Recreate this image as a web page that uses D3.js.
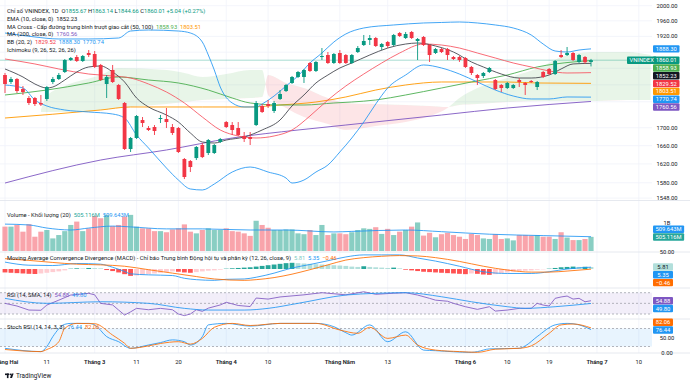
<!DOCTYPE html>
<html>
<head>
<meta charset="utf-8">
<script src="https://cdn.jsdelivr.net/npm/d3@7"></script>
<style>
html, body { margin: 0; padding: 0; background: #fff; }
svg { display: block; font-family: Roboto, "Noto Sans", sans-serif; }
text { white-space: pre; }
</style>
</head>
<body>
<svg id="chart" width="690" height="385"></svg>
<script>
// ---- data (daily bars) ----
const opens = [
  1823.7,1806.8,1814.0,1790.0,1768.7,1768.7,1757.0,1766.4,1806.8,1814.0,
  1831.0,1860.5,1867.9,1858.0,1877.9,1875.4,1848.2,1802.0,1835.9,1799.6,
  1757.0,1652.6,1677.0,1717.6,1699.4,1701.7,1719.9,1719.9,1701.7,1699.4,
  1630.7,1626.3,1632.8,1661.4,1643.8,1643.8,1668.1,1713.0,1706.2,1699.4,
  1681.5,1679.2,1706.2,1750.0,1754.6,1738.4,1766.4,1785.2,1804.4,1818.9,
  1818.9,1853.1,1833.5,1867.9,1872.9,1853.1,1877.9,1872.9,1853.1,1880.4,
  1898.0,1910.7,1915.8,1893.0,1905.6,1898.0,1928.6,1915.8,1931.2,1908.2,
  1918.4,1898.0,1877.9,1887.9,1887.9,1867.9,1867.9,1865.5,1843.3,1823.7,
  1821.3,1831.0,1811.6,1799.6,1792.4,1792.4,1811.6,1804.4,1809.2,1794.8,
  1831.0,1838.4,1826.1,1872.9,1872.9,1877.9,1855.6,1867.9,1855.67
];
const highs = [
  1828.6,1818.9,1816.4,1797.2,1773.4,1771.1,1775.8,1797.2,1818.9,1828.6,
  1863.0,1867.9,1872.9,1872.9,1885.4,1882.9,1850.7,1823.7,1848.2,1802.0,
  1759.3,1679.2,1729.1,1724.5,1703.9,1706.2,1729.1,1745.3,1708.5,1701.7,
  1632.8,1628.5,1659.2,1665.8,1674.7,1663.6,1677.0,1715.3,1713.0,1713.0,
  1690.4,1690.4,1761.7,1754.6,1764.0,1761.7,1787.6,1802.0,1821.3,1833.5,
  1838.4,1855.6,1858.0,1890.4,1880.4,1877.9,1885.4,1875.4,1875.4,1895.5,
  1923.5,1923.5,1918.4,1903.1,1908.2,1926.1,1931.2,1931.2,1933.7,1915.8,
  1920.9,1900.5,1890.4,1890.4,1890.4,1870.4,1870.4,1867.9,1845.7,1826.1,
  1831.0,1843.3,1814.0,1802.0,1806.8,1802.0,1816.4,1806.8,1811.6,1809.2,
  1833.5,1840.8,1860.5,1885.4,1893.0,1880.4,1875.4,1870.4,1863.14
];
const lows = [
  1780.5,1802.0,1780.5,1775.8,1752.3,1750.0,1750.0,1761.7,1802.0,1811.6,
  1828.6,1858.0,1855.6,1855.6,1867.9,1840.8,1809.2,1768.7,1804.4,1764.0,
  1650.4,1646.0,1674.7,1701.7,1692.7,1683.7,1710.8,1699.4,1683.7,1643.8,
  1587.8,1602.7,1628.5,1632.8,1639.4,1641.6,1665.8,1699.4,1683.7,1681.5,
  1668.1,1661.4,1703.9,1733.7,1745.3,1733.7,1764.0,1782.9,1802.0,1816.4,
  1804.4,1831.0,1831.0,1860.5,1850.7,1850.7,1850.7,1850.7,1850.7,1877.9,
  1895.5,1898.0,1893.0,1885.4,1890.4,1895.5,1918.4,1913.3,1913.3,1860.5,
  1895.5,1855.6,1875.4,1877.9,1860.5,1860.5,1855.6,1840.8,1823.7,1799.6,
  1816.4,1828.6,1787.6,1782.9,1790.0,1790.0,1794.8,1775.8,1804.4,1787.6,
  1816.4,1823.7,1823.7,1865.5,1870.4,1858.0,1853.1,1850.7,1844.66
];
const closes = [
  1802.0,1814.0,1785.2,1782.9,1757.0,1754.6,1753.5,1794.8,1814.0,1823.7,
  1860.5,1865.5,1858.0,1870.4,1872.9,1843.3,1811.6,1818.9,1806.8,1766.4,
  1652.6,1677.0,1726.8,1710.8,1694.9,1692.7,1722.2,1713.0,1688.2,1646.0,
  1592.1,1613.4,1657.0,1635.0,1672.5,1661.4,1674.7,1701.7,1694.9,1683.7,
  1674.7,1674.7,1757.0,1736.1,1750.0,1757.0,1778.2,1799.6,1818.9,1831.0,
  1835.9,1833.5,1855.6,1870.4,1853.1,1875.4,1853.1,1853.1,1872.9,1890.4,
  1908.2,1915.8,1895.5,1900.5,1895.5,1923.5,1920.9,1926.1,1915.8,1913.3,
  1898.0,1872.9,1887.9,1880.4,1872.9,1863.0,1860.5,1843.3,1828.6,1816.4,
  1828.6,1840.8,1790.0,1792.4,1804.4,1799.6,1806.8,1799.6,1806.8,1806.8,
  1818.9,1826.1,1858.0,1867.9,1877.9,1860.5,1872.9,1854.97,1860.01
];
// volume in millions
const volM = [
  870,870,930,690,960,510,690,750,450,570,
  710,930,1050,710,810,1250,1170,1290,890,930,
  1230,1290,870,810,810,710,710,670,770,810,
  950,690,630,750,810,750,750,810,710,690,
  630,540,1080,930,830,750,750,770,770,630,
  600,750,570,930,570,630,630,600,670,750,
  810,790,850,610,790,570,690,750,870,1020,
  550,650,490,600,650,570,510,430,610,570,
  450,430,600,430,450,380,570,570,550,570,
  510,510,430,670,480,390,390,430,505.116
];
const volMaIdx = [0,4,7,11,14,18,21,27,33,41,47,55,58,67,73,81,90,98];
const volMaVal = [960,930,820,750,820,890,860,790,790,750,750,680,700,750,690,600,550,509.643];

// overlays (bar index -> value)
const emaIdx = [0,3,5,7,8,10,12,14,16,18,20,22,24,27,29,31,33,35,37,40,43,46,48,50,52,54,56,58,61,64,67,69,72,75,78,80,83,86,88,91,93,95,98];
const emaVal = [1838.4,1818.9,1802.0,1792.4,1794.8,1811.6,1831.0,1843.3,1845.7,1831.0,1806.8,1768.7,1747.7,1729.1,1713.0,1688.2,1668.1,1665.8,1672.5,1679.2,1694.9,1717.6,1750.0,1775.8,1804.4,1823.7,1840.8,1853.1,1872.9,1890.4,1900.5,1903.1,1895.5,1880.4,1855.6,1843.3,1826.1,1816.4,1816.4,1823.7,1838.4,1850.7,1852.23];

const bbUpIdx = [0,5,9,14,19,21,24,29,31,33,34,35,36,38,40,42,43,45,47,49,51,53,55,57,60,65,70,73,76,79,82,85,88,90,92,94,96,98];
const bbUpVal = [1928.6,1918.4,1913.3,1913.3,1915.8,1933.7,1936.3,1933.7,1928.6,1905.6,1872.9,1835.9,1794.8,1757.0,1747.7,1747.7,1754.6,1773.4,1797.2,1821.3,1853.1,1877.9,1905.6,1926.1,1941.5,1949.3,1954.5,1955.8,1957.1,1954.5,1949.3,1941.5,1923.5,1900.5,1882.9,1880.4,1885.4,1888.30];
const bbMidIdx = [0,5,9,14,18,21,24,27,30,33,36,39,42,45,48,51,54,57,60,63,66,70,73,76,79,82,85,88,91,94,98];
const bbMidVal = [1863.0,1850.7,1838.4,1826.1,1821.3,1816.4,1802.0,1782.9,1757.0,1724.5,1694.9,1681.5,1677.0,1681.5,1694.9,1726.8,1764.0,1797.2,1826.1,1853.1,1877.9,1900.5,1898.0,1890.4,1877.9,1865.5,1853.1,1843.3,1833.5,1828.6,1829.52];
const bbLoIdx = [0,3,5,7,10,14,18,20,22,24,27,29,31,33,35,38,41,44,47,48,50,52,54,56,58,60,62,64,67,70,73,76,79,82,85,88,91,94,98];
const bbLoVal = [1799.6,1792.4,1764.0,1750.0,1740.7,1736.1,1731.4,1722.2,1683.7,1654.8,1611.3,1585.7,1566.9,1564.8,1577.3,1602.7,1613.4,1602.7,1589.9,1579.4,1585.7,1602.7,1617.7,1646.0,1677.0,1713.0,1754.6,1792.4,1823.7,1848.2,1840.8,1826.1,1806.8,1787.6,1773.4,1766.4,1766.4,1771.1,1770.74];

const ma50Idx = [0,7,14,19,24,29,34,38,41,46,50,55,58,62,67,73,78,84,89,95,98];
const ma50Val = [1775.8,1787.6,1804.4,1818.9,1811.6,1804.4,1787.6,1768.7,1757.0,1752.3,1752.3,1757.0,1759.3,1764.0,1775.8,1792.4,1806.8,1823.7,1843.3,1855.6,1858.93];
const ma100Idx = [0,16,21,33,41,46,52,57,62,67,73,84,89,98];
const ma100Val = [1722.2,1740.7,1747.7,1747.7,1747.7,1752.3,1759.3,1771.1,1787.6,1799.6,1806.8,1806.8,1804.4,1803.51];
const ma200Idx = [0,16,27,38,49,57,73,84,98];
const ma200Val = [1579.4,1628.5,1650.4,1677.0,1694.9,1706.2,1729.1,1745.3,1760.56];

// Ichimoku cloud spans (already shifted forward)
const spanIdx = [6,7,10,16,19,27,30,33,37,41,43,44,47,50,54,57,62,67,71,74,76,79,84,90,93,96,99,104,108];
const spanA = [1740.7,1773.4,1797.2,1823.7,1840.8,1835.9,1828.6,1818.9,1826.1,1835.9,1835.9,1775.8,1745.3,1724.5,1708.5,1694.9,1703.9,1713.0,1726.8,1745.3,1768.7,1792.4,1816.4,1845.7,1867.9,1877.9,1880.4,1880.4,1872.9];
const spanB = [1736.1,1736.1,1736.1,1740.7,1745.3,1754.6,1759.3,1764.0,1766.4,1768.7,1771.1,1823.7,1804.4,1792.4,1768.7,1757.0,1754.6,1752.3,1750.0,1747.7,1752.3,1754.6,1759.3,1761.7,1761.7,1761.7,1761.7,1764.0,1764.0];

// MACD (12, 26, 9)
const macdIdx = [0,4,8,12,16,18,20,21,24,28,30,32,35,37,40,42,45,48,51,54,57,60,63,66,69,72,76,80,84,88,91,94,98];
const macdVal = [20,11,10,16,14,5,-7,-14,-17,-19,-27,-31,-33,-30,-29,-24,-12,3,13,24,35,41,41,41,32,23,8,-8,-13,-13,-8,0,5.35];
const signalIdx = [0,4,8,12,16,20,24,28,32,35,40,42,45,48,51,54,57,60,63,66,69,72,76,80,84,88,91,94,98];
const signalVal = [30,25,19,14,12,8,-2,-12,-22,-29,-33,-31,-25,-15,-2,12,26,33,37,39,38,33,22,8,-3,-9,-9,-6,-0.46];
const macdHist = [
  -10,-11,-12,-13,-14,-14.5,-13,-11,-9,-7,
  -4,1,2,1.5,3,2.5,2,-3,-6,-10,
  -15,-20,-19,-17,-15,-13,-11,-9,-7,-8,
  -10,-11,-9,-7,-5,-4,-2,1,2,3,
  4,5,7,9,11,13,15,17,18,17,
  16,15,14,13,12,11,10,9,7,6,
  8,6,5,4,3,4,2,-2,-4,-6,
  -8,-9,-10,-11,-12,-13,-14,-15,-13,-14,
  -16,-17,-15,-12,-10,-8,-6,-5,-4,-2,
  -1,1,3,5,6,7,6,6.5,5.81
];

// RSI (14) and its SMA
const rsiIdx = [0,2,4,6,7,9,11,14,15,16,18,19,20,21,22,24,26,28,29,30,31,32,33,34,36,37,39,41,42,44,46,50,53,55,57,60,62,65,67,69,71,72,74,75,77,79,81,82,84,86,88,89,90,91,92,93,94,95,96,97,98];
const rsiVal = [50,45,37.4,37,46.8,56,65.6,68.8,66,50,47,37.4,28,34,40.6,38,40.6,38,30,27,30,38,35,41,47,52,46,44,60,58,62,66,70,68,66,71.8,67,69,70,65.6,59.4,56,54,50,43.7,38.7,43.7,35.5,37.4,40.6,40.6,50,46.8,45,59.4,62,63.7,58,59.4,53,54.88];
const rsiMaIdx = [0,7,16,24,30,34,40,44,49,57,62,67,73,78,84,87,92,98];
const rsiMaVal = [59.4,50,53,50,40.6,37.4,37.4,40.6,50,65.6,68.8,70,62.4,53,43.7,40.6,43.7,49.8];

// Stoch RSI (14, 14, 3, 3)
const kIdx = [0,6,7,8,10,11,14,15,17,19,21,24,26,28,30,31,33,34,37,41,46,52,55,57,58,61,64,67,70,72,78,79,81,86,87,89,92,94,96,98];
const kVal = [14,3,19.7,53,94,97,97,92,53,36,14,25,33,42,36,25,53,92,97,88,97,97,86,66,58,92,36,69,8,6,0.5,3,12,14,22,53,92,97,92,76.44];
const dIdx = [0,6,7,9,10,12,15,18,20,21,24,26,29,31,33,35,38,41,46,52,56,59,61,64,67,69,72,76,79,82,86,88,91,93,95,98];
const dVal = [10,3,10,36,80.6,97,96,58,30.6,14,22,30,36,28,47,84,97,90,97,97,75,64,84,47,58,25,8,3,0.5,11,14,22,64,92,95,82.06];

// time axis
const tickIdx = [0,7,15,22,29,37,44,56,64,77,84,91,99,106];
const tickText = ['Tháng Hai','11','Tháng 3','11','20','Tháng 4','10','Tháng Năm','13','Tháng 6','10','19','Tháng 7','10'];
const priceTicks = [2000,1960,1920,1880,1840,1800,1760,1700,1660,1620,1580,1548];

// ---- layout ----
const N = closes.length;
const PLOT_R = 652;
const FS = 5.8;
const UP = '#089981', DOWN = '#f23645';
const TXT = '#131722';

const svg = d3.select('#chart');
const defs = svg.append('defs');

const x = d3.scaleLinear().domain([0, N - 1]).range([5, 591]);
const yMain = d3.scaleLog().domain([1548, 2000]).range([198.1, 5.7]);
const yVol = d3.scaleLinear().domain([0, 1000]).range([251, 223]);
const yMacd = d3.scaleLinear().domain([0, 50]).range([269, 251.8]);
const yRsi = d3.scaleLinear().domain([30, 70]).range([314, 292.7]);
const yStoch = d3.scaleLinear().domain([0, 100]).range([352.5, 322.5]);

const panes = { main: [0, 200], vol: [201, 252], macd: [252, 288], rsi: [288, 319], stoch: [319, 353] };
for (const k in panes) {
    defs.append('clipPath').attr('id', 'clip-' + k)
        .append('rect').attr('x', 0).attr('y', panes[k][0])
        .attr('width', PLOT_R).attr('height', panes[k][1] - panes[k][0]);
}

// grid
const grid = svg.append('g');
grid.selectAll('line.v').data(tickIdx).join('line')
    .attr('x1', d => x(d)).attr('x2', d => x(d))
    .attr('y1', 0).attr('y2', 353)
    .attr('stroke', '#f0f3fa').attr('stroke-width', 0.8);
grid.selectAll('line.h').data(priceTicks).join('line')
    .attr('x1', 0).attr('x2', PLOT_R)
    .attr('y1', d => yMain(d)).attr('y2', d => yMain(d))
    .attr('stroke', '#f0f3fa').attr('stroke-width', 0.8);
grid.selectAll('line.sep').data([200.5, 252, 288, 319, 353]).join('line')
    .attr('x1', 0).attr('x2', 690).attr('y1', d => d).attr('y2', d => d)
    .attr('stroke', '#e0e3eb').attr('stroke-width', 0.8);

// helper for sampled indicator lines
function drawLine(g, idx, vals, yScale, color, width, curve) {
    const pts = idx.map((d, k) => [x(d), yScale(vals[k])]);
    g.append('path')
        .attr('d', d3.line().curve(curve || d3.curveMonotoneX)(pts))
        .attr('fill', 'none').attr('stroke', color).attr('stroke-width', width || 0.9);
}

// ---- main pane ----
const main = svg.append('g').attr('clip-path', 'url(#clip-main)');

// Ichimoku cloud
const cloud = spanIdx.map((d, k) => ({ i: d, a: spanA[k], b: spanB[k] }));
const cx = d => x(d.i);
defs.append('clipPath').attr('id', 'aboveB').append('path')
    .attr('d', d3.area().curve(d3.curveMonotoneX).x(cx).y0(0).y1(d => yMain(d.b))(cloud));
defs.append('clipPath').attr('id', 'belowB').append('path')
    .attr('d', d3.area().curve(d3.curveMonotoneX).x(cx).y0(d => yMain(d.b)).y1(200)(cloud));
const cloudArea = d3.area().curve(d3.curveMonotoneX).x(cx).y0(d => yMain(d.b)).y1(d => yMain(d.a));
main.append('g').attr('clip-path', 'url(#aboveB)').append('path')
    .attr('d', cloudArea(cloud)).attr('fill', 'rgba(76,175,80,0.13)');
main.append('g').attr('clip-path', 'url(#belowB)').append('path')
    .attr('d', cloudArea(cloud)).attr('fill', 'rgba(242,54,69,0.13)');

// last price line
main.append('line')
    .attr('x1', 0).attr('x2', PLOT_R)
    .attr('y1', yMain(closes[N - 1])).attr('y2', yMain(closes[N - 1]))
    .attr('stroke', UP).attr('stroke-opacity', 0.45).attr('stroke-width', 0.8);

drawLine(main, ma200Idx, ma200Val, yMain, '#7e57c2');
drawLine(main, ma100Idx, ma100Val, yMain, '#ff9800');
drawLine(main, ma50Idx, ma50Val, yMain, '#4caf50');
drawLine(main, bbUpIdx, bbUpVal, yMain, '#2196f3', 0.85);
drawLine(main, bbLoIdx, bbLoVal, yMain, '#2196f3', 0.85);
drawLine(main, bbMidIdx, bbMidVal, yMain, '#f7525f', 0.85);
drawLine(main, emaIdx, emaVal, yMain, '#3c3f47', 0.85);

// candles
const bars = d3.range(N);
const col = i => closes[i] >= opens[i] ? UP : DOWN;
main.selectAll('line.wick').data(bars).join('line')
    .attr('x1', i => x(i)).attr('x2', i => x(i))
    .attr('y1', i => yMain(highs[i])).attr('y2', i => yMain(lows[i]))
    .attr('stroke', col).attr('stroke-width', 0.9);
main.selectAll('rect.body').data(bars).join('rect')
    .attr('x', i => x(i) - 1.9).attr('width', 3.8)
    .attr('y', i => yMain(Math.max(opens[i], closes[i])))
    .attr('height', i => Math.max(0.8, Math.abs(yMain(opens[i]) - yMain(closes[i]))))
    .attr('fill', col);

// ---- volume ----
const vol = svg.append('g').attr('clip-path', 'url(#clip-vol)');
vol.selectAll('rect').data(bars).join('rect')
    .attr('x', i => x(i) - 2.6).attr('width', 5.2)
    .attr('y', i => yVol(volM[i])).attr('height', i => yVol(0) - yVol(volM[i]))
    .attr('fill', i => closes[i] >= opens[i] ? 'rgba(8,153,129,0.48)' : 'rgba(242,54,69,0.45)');
drawLine(vol, volMaIdx, volMaVal, yVol, '#2196f3', 0.85);

// ---- MACD ----
const macd = svg.append('g').attr('clip-path', 'url(#clip-macd)');
macd.selectAll('rect').data(bars).join('rect')
    .attr('x', i => x(i) - 2.4).attr('width', 4.8)
    .attr('y', i => Math.min(yMacd(0), yMacd(macdHist[i])))
    .attr('height', i => Math.abs(yMacd(macdHist[i]) - yMacd(0)))
    .attr('fill', i => {
        const v = macdHist[i], p = i > 0 ? macdHist[i - 1] : v;
        if (v >= 0) return v >= p ? '#26a69a' : '#b2dfdb';
        return v <= p ? '#ff5252' : '#ffcdd2';
    });
drawLine(macd, macdIdx, macdVal, yMacd, '#2196f3', 0.85);
drawLine(macd, signalIdx, signalVal, yMacd, '#ff6d00', 0.85);

// ---- RSI ----
const rsi = svg.append('g').attr('clip-path', 'url(#clip-rsi)');
rsi.append('rect').attr('x', 0).attr('width', PLOT_R)
    .attr('y', yRsi(70)).attr('height', yRsi(30) - yRsi(70))
    .attr('fill', 'rgba(126,87,194,0.1)');
rsi.selectAll('line').data([70, 50, 30]).join('line')
    .attr('x1', 0).attr('x2', PLOT_R).attr('y1', d => yRsi(d)).attr('y2', d => yRsi(d))
    .attr('stroke', '#9598a1').attr('stroke-width', 0.7).attr('stroke-dasharray', '2,2');
drawLine(rsi, rsiIdx, rsiVal, yRsi, '#7e57c2', 0.85, d3.curveLinear);
drawLine(rsi, rsiMaIdx, rsiMaVal, yRsi, '#2196f3', 0.85);

// ---- Stoch RSI ----
const st = svg.append('g').attr('clip-path', 'url(#clip-stoch)');
st.append('rect').attr('x', 0).attr('width', PLOT_R)
    .attr('y', yStoch(80)).attr('height', yStoch(20) - yStoch(80))
    .attr('fill', 'rgba(33,150,243,0.1)');
st.selectAll('line').data([80, 20]).join('line')
    .attr('x1', 0).attr('x2', PLOT_R).attr('y1', d => yStoch(d)).attr('y2', d => yStoch(d))
    .attr('stroke', '#9598a1').attr('stroke-width', 0.7).attr('stroke-dasharray', '2,2');
drawLine(st, kIdx, kVal, yStoch, '#2196f3', 0.85);
drawLine(st, dIdx, dVal, yStoch, '#ff6d00', 0.85);

// ---- last value tags (positions) ----
function stack(tags, h, maxY) {
    tags.sort((a, b) => a.y - b.y);
    for (let k = 1; k < tags.length; k++) {
        if (tags[k].y < tags[k - 1].y + h) tags[k].y = tags[k - 1].y + h;
    }
    if (maxY != null) {
        const over = tags[tags.length - 1].y - maxY;
        if (over > 0) tags.forEach(t => t.y -= over);
    }
    return tags;
}
const last = a => a[a.length - 1];
const fmt = d3.format('.2f');

const mainTags = stack([
    { v: last(bbUpVal), c: '#2196f3' },
    { v: last(closes), c: UP, name: 'VNINDEX' },
    { v: last(ma50Val), c: '#4caf50' },
    { v: last(emaVal), c: TXT },
    { v: last(bbMidVal), c: '#f23645' },
    { v: last(ma100Val), c: '#ff9800' },
    { v: last(bbLoVal), c: '#2196f3' },
    { v: last(ma200Val), c: '#7e57c2' }
].map(t => ({ ...t, y: yMain(t.v), txt: fmt(t.v) })), 7.8);

// ---- axes ----
const axis = svg.append('g').attr('font-size', FS).attr('fill', TXT);
// labels hidden under the value tags are not drawn
const freeTicks = priceTicks.filter(p => mainTags.every(t => Math.abs(t.y - yMain(p)) > 6));
axis.selectAll('text.p').data(freeTicks).join('text')
    .attr('x', 667).attr('y', d => yMain(d)).attr('dy', '0.35em')
    .attr('text-anchor', 'middle').text(d => fmt(d));
axis.append('text').attr('x', 667).attr('y', yVol(1000)).attr('dy', '0.35em')
    .attr('text-anchor', 'middle').text('1B');
axis.append('text').attr('x', 667).attr('y', yMacd(50)).attr('dy', '0.35em')
    .attr('text-anchor', 'middle').text('50.00');
axis.selectAll('text.s').data([50, 0]).join('text')
    .attr('x', 667).attr('y', d => yStoch(d)).attr('dy', '0.35em')
    .attr('text-anchor', 'middle').text(d => fmt(d));
axis.selectAll('text.t').data(tickIdx).join('text')
    .attr('x', d => x(d)).attr('y', 361.7).attr('dy', '0.35em')
    .attr('text-anchor', 'middle')
    .attr('font-weight', (d, k) => tickText[k].startsWith('Tháng') ? 600 : 400)
    .text((d, k) => tickText[k]);

// ---- tags ----
function drawTag(t, x0, minW) {
    const g = svg.append('g');
    const r = g.append('rect').attr('fill', t.c).attr('rx', 1);
    const tx = g.append('text').attr('y', t.y).attr('dy', '0.35em')
        .attr('font-size', FS).attr('fill', t.tc || '#fff').attr('text-anchor', 'middle').text(t.txt);
    const w = Math.max(tx.node().getComputedTextLength() + 5, minW || 26.5);
    tx.attr('x', x0 + w / 2);
    r.attr('x', x0).attr('y', t.y - 3.7).attr('width', w).attr('height', 7.4);
}
mainTags.forEach(t => {
    drawTag(t, 653);
    if (t.name) drawTag({ ...t, txt: t.name }, 627, 25);
});

stack([
    { v: last(volMaVal), c: '#2196f3', txt: last(volMaVal).toFixed(3) + 'M' },
    { v: last(volM), c: '#26a69a', txt: last(volM).toFixed(3) + 'M' }
].map(t => ({ ...t, y: yVol(t.v) })), 7.8, 237).forEach(t => drawTag(t, 653));

stack([
    { v: last(macdHist), c: '#b2dfdb', tc: '#131722' },
    { v: last(macdVal), c: '#2196f3' },
    { v: last(signalVal), c: '#ff6d00' }
].map(t => ({ ...t, y: yMacd(t.v), txt: fmt(t.v) })), 7.8).forEach(t => drawTag(t, 653, 20));

stack([
    { v: last(rsiVal), c: '#7e57c2' },
    { v: last(rsiMaVal), c: '#2196f3' }
].map(t => ({ ...t, y: yRsi(t.v), txt: fmt(t.v) })), 7.8).forEach(t => drawTag(t, 653, 20));

stack([
    { v: last(dVal), c: '#ff6d00' },
    { v: last(kVal), c: '#2196f3' }
].map(t => ({ ...t, y: yStoch(t.v), txt: fmt(t.v) })), 7.8, 330).forEach(t => drawTag(t, 653, 20));

// ---- legends ----
function legend(y, parts) {
    const t = svg.append('text').attr('x', 7).attr('y', y).attr('dy', '0.35em').attr('font-size', FS);
    parts.forEach(([s, c]) => t.append('tspan').attr('fill', c).text(s));
}
const chg = last(closes) - closes[N - 2];
const pct = chg / closes[N - 2] * 100;
legend(11, [['Chỉ số VNINDEX, 1D  ', TXT],
    ['O', TXT], [fmt(last(opens)), UP], [' H', TXT], [fmt(last(highs)), UP],
    [' L', TXT], [fmt(last(lows)), UP], [' C', TXT], [fmt(last(closes)), UP],
    [' ' + (chg >= 0 ? '+' : '') + fmt(chg) + ' (' + (pct >= 0 ? '+' : '') + fmt(pct) + '%)', UP]]);
legend(19, [['EMA (10, close, 0)  ', TXT], [fmt(last(emaVal)), TXT]]);
legend(26.7, [['MA Cross - Cấp đường trung bình trượt giao cắt (50, 100)  ', TXT],
    [fmt(last(ma50Val)), '#4caf50'], ['  ' + fmt(last(ma100Val)), '#ff9800']]);
legend(34.3, [['MA (200, close, 0)  ', TXT], [fmt(last(ma200Val)), '#7e57c2']]);
legend(42.3, [['BB (20, 2)  ', TXT], [fmt(last(bbMidVal)), '#f23645'],
    ['  ' + fmt(last(bbUpVal)), '#2196f3'], ['  ' + fmt(last(bbLoVal)), '#2196f3']]);
legend(50, [['Ichimoku (9, 26, 52, 26, 26)', TXT]]);
legend(215, [['Volume - Khối lượng (20)  ', TXT],
    [last(volM).toFixed(3) + 'M', '#26a69a'], ['  ' + last(volMaVal).toFixed(3) + 'M', '#2196f3']]);
legend(258.3, [['Moving Average Convergence Divergence (MACD) - Chỉ báo Trung bình Động hội tụ và phân kỳ (12, 26, close, 9)  ', TXT],
    [fmt(last(macdHist)), '#80cbc4'], ['  ' + fmt(last(macdVal)), '#2196f3'], ['  ' + fmt(last(signalVal)), '#ff6d00']]);
legend(295, [['RSI (14, SMA, 14)  ', TXT], [fmt(last(rsiVal)), '#7e57c2'], ['  ' + fmt(last(rsiMaVal)), '#2196f3']]);
legend(326.7, [['Stoch RSI (14, 14, 3, 3)  ', TXT], [fmt(last(kVal)), '#2196f3'], ['  ' + fmt(last(dVal)), '#ff6d00']]);

// ---- TradingView mark ----
const logo = svg.append('g').attr('fill', TXT);
logo.append('rect').attr('x', 5).attr('y', 373.5).attr('width', 4).attr('height', 1.6);
logo.append('rect').attr('x', 6.9).attr('y', 373.5).attr('width', 1.6).attr('height', 4.6);
logo.append('circle').attr('cx', 10.4).attr('cy', 374.3).attr('r', 0.9);
logo.append('path').attr('d', 'M11.6,373.5 L13.6,373.5 L12,378.1 L10,378.1 Z');
logo.append('text').attr('x', 16).attr('y', 376).attr('dy', '0.35em')
    .attr('font-size', 6.4).text('TradingView');
</script>
</body>
</html>
